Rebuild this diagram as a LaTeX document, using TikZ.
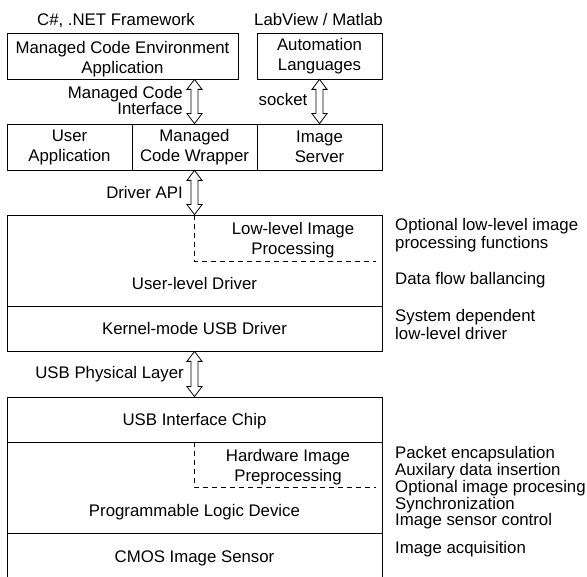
\documentclass[tikz,border=0pt]{standalone}
\usepackage{fontspec}
\setmainfont{Liberation Sans}
\usetikzlibrary{calc}
\tikzset{
  box/.style={draw,line width=0.8pt,inner sep=0pt,align=center,
    font=\fontsize{16.8}{20}\selectfont},
  oneline/.style={text height=12pt,text depth=0pt},
  lbl/.style={inner sep=0pt,align=center,font=\fontsize{16.8}{16}\selectfont},
  note/.style={inner sep=0pt,align=left,anchor=west,font=\fontsize{16.8}{18}\selectfont},
  regline/.style={line width=0.8pt,dash pattern=on 5pt off 4pt},
  hollow/.style={line width=0.8pt,fill=white,line join=miter},
}
% hollow double arrow between two named points (top, bottom)
\newcommand{\dblarrow}[2]{%
  \draw[hollow] (#1) -- ++(7.5,10) -- ++(-4,0) -- ($(#2)+(3.5,-10)$)
    -- ++(4,0) -- (#2) -- ++(-7.5,-10) -- ++(4,0)
    -- ($(#1)+(-3.5,10)$) -- ++(-4,0) -- cycle;}

\begin{document}
\begin{tikzpicture}[x=1pt,y=-1pt]
  \useasboundingbox (0,0) rectangle (587,577);
  % application level
  \node[lbl,anchor=base] (netl) at (116,26) {C\#, .NET Framework};
  \node[lbl,anchor=base] (labl) at (318.5,26) {LabView / Matlab};
  \node[box,minimum width=231,minimum height=46] (mce) at (122.5,56) {};
  \node[box,draw=none] (mcet) at (122.5,59) {Managed Code Environment\\Application};
  \node[box,minimum width=125,minimum height=46] (auto) at (319.5,56)
    {Automation\\Languages};
  \node[box,minimum width=125,minimum height=46] (usr) at (69.5,147)
    {User\\Application};
  \node[box,minimum width=125,minimum height=46] (mcw) at (194.5,147)
    {Managed\\Code Wrapper};
  \node[box,minimum width=125,minimum height=46] (srv) at (319.5,147)
    {Image\\Server};
  % host drivers
  \node[box,minimum width=375,minimum height=91] (uld) at (194.5,260.5) {};
  \node[box,oneline,minimum width=375,minimum height=45] (kmd) at (194.5,328.5)
    {Kernel-mode USB Driver};
  \node[lbl,anchor=base] (uldt) at (194.5,290) {User-level Driver};
  \node[box,draw=none] (llip) at (293,240.2) {Low-level Image\\Processing};
  \draw[regline] (uld.north -| mcw.south) |- (376,261);
  % camera
  \node[box,oneline,minimum width=375,minimum height=45] (chip) at (194.5,419.5)
    {USB Interface Chip};
  \node[box,minimum width=375,minimum height=91] (pld) at (194.5,487.5) {};
  \node[box,oneline,minimum width=375,minimum height=47] (cmos) at (194.5,556.5)
    {CMOS Image Sensor};
  \node[lbl,anchor=base] (pldt) at (194.5,517) {Programmable Logic Device};
  \node[box,draw=none] (hwip) at (288,467) {Hardware Image\\Preprocessing};
  \draw[regline] (pld.north -| mcw.south) |- (376,487);
  % interfaces
  \coordinate (a1) at (mce.south -| mcw.north);
  \coordinate (a3) at (uld.north -| mcw.south);
  \coordinate (a4a) at (kmd.south -| mcw.south);
  \coordinate (a4b) at (chip.north -| mcw.south);
  \dblarrow{a1}{mcw.north}
  \dblarrow{auto.south}{srv.north}
  \dblarrow{mcw.south}{a3}
  \dblarrow{a4a}{a4b}
  \node[lbl,align=right,anchor=east] (mcil) at (183,100.5) {Managed Code\\Interface};
  \node[lbl,anchor=base] (sockl) at (283,106) {socket};
  \node[lbl,anchor=base east] (apil) at (183,199) {Driver API};
  \node[lbl,anchor=base east] (usbl) at (184,379) {USB Physical Layer};
  % functions
  \node[note] (n1) at (395,235.5) {Optional low-level image\\processing functions};
  \node[note,anchor=base west] (n2) at (395,285) {Data flow ballancing};
  \node[note] (n3) at (395,324) {System dependent\\low-level driver};
  \node[note,font=\fontsize{16.8}{16.75}\selectfont] (n4) at (395,488)
    {Packet encapsulation\\Auxilary data insertion\\Optional image procesing\\Synchronization\\Image sensor control};
  \node[note,anchor=base west] (n5) at (395,553) {Image acquisition};
\end{tikzpicture}
\end{document}
